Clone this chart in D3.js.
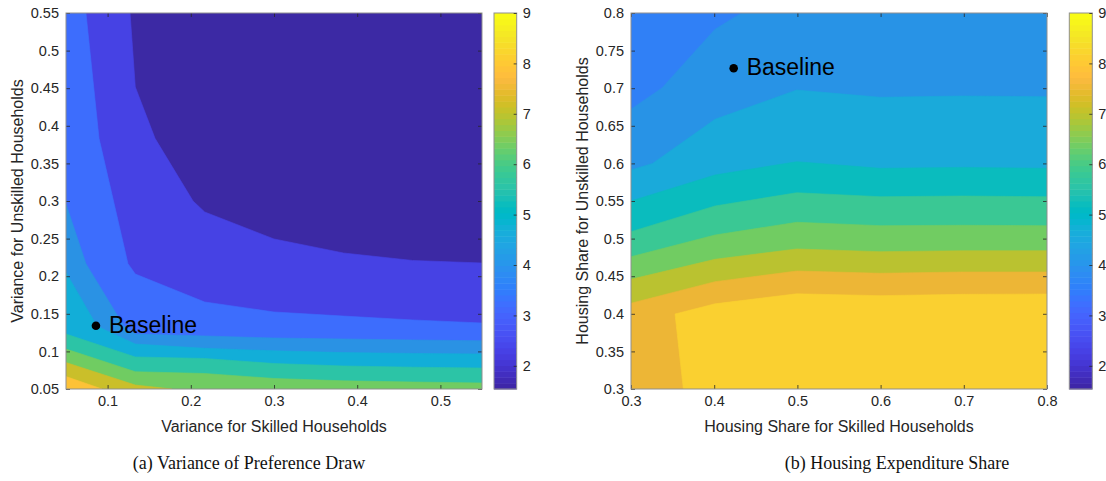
<!DOCTYPE html>
<html>
<head>
<meta charset="utf-8">
<script src="https://cdn.jsdelivr.net/npm/d3@7"></script>
<style>
  html, body { margin: 0; padding: 0; background: #fff; }
  svg { display: block; }
</style>
</head>
<body>
<svg id="chart" width="1106" height="481"></svg>
<script>
// ---------------- DATA ----------------
// Panel (a): contour boundaries (lowest level first), x = skilled variance, y = unskilled variance
const leftXDomain = [0.05, 0.55];
const leftYDomain = [0.05, 0.55];
const leftXTicks = [0.1, 0.2, 0.3, 0.4, 0.5];
const leftYTicks = [0.05, 0.1, 0.15, 0.2, 0.25, 0.3, 0.35, 0.4, 0.45, 0.5, 0.55];
const leftLine1 = [[0.127,0.55],[0.1333,0.4516],[0.157,0.3833],[0.2027,0.3],[0.2167,0.2854],[0.3,0.2495],[0.3833,0.2309],[0.4667,0.2209],[0.55,0.2176]];
const leftLine2 = [[0.074,0.55],[0.0897,0.3833],[0.1245,0.2167],[0.1333,0.2029],[0.2167,0.1657],[0.3,0.1524],[0.3833,0.147],[0.4667,0.1418],[0.55,0.1378]];
const leftLine3 = [[0.05,0.296],[0.074,0.2166],[0.1197,0.1334],[0.1333,0.1231],[0.2167,0.1205],[0.3,0.1178],[0.3833,0.1165],[0.4667,0.1152],[0.55,0.1142]];
const leftLine4 = [[0.05,0.205],[0.0873,0.1334],[0.1333,0.1098],[0.2167,0.1041],[0.3,0.1008],[0.3833,0.0984],[0.4667,0.0973],[0.55,0.0965]];
const leftLine5 = [[0.05,0.1231],[0.1333,0.0926],[0.2167,0.0906],[0.3,0.0839],[0.3833,0.0806],[0.4667,0.079],[0.55,0.0779]];
const leftLine6 = [[0.05,0.1032],[0.1333,0.073],[0.2167,0.0706],[0.3,0.064],[0.3833,0.0609],[0.4667,0.0593],[0.55,0.058]];
const leftLine7 = [[0.05,0.0852],[0.1333,0.0553],[0.1774,0.05]];
const leftLine8 = [[0.05,0.0666],[0.0933,0.05]];
const leftBaseline = [0.086, 0.1342];

// Panel (b): contour boundaries, x = skilled housing share, y = unskilled housing share
const rightXDomain = [0.3, 0.8];
const rightYDomain = [0.3, 0.8];
const rightXTicks = [0.3, 0.4, 0.5, 0.6, 0.7, 0.8];
const rightYTicks = [0.3, 0.35, 0.4, 0.45, 0.5, 0.55, 0.6, 0.65, 0.7, 0.75, 0.8];
const rightLine1 = [[0.3,0.672],[0.3373,0.7003],[0.401,0.7783],[0.433,0.8]];
const rightLine2 = [[0.3,0.5912],[0.326,0.6],[0.401,0.6586],[0.4992,0.6976],[0.5993,0.6879],[0.6994,0.6896],[0.8,0.6887]];
const rightLine3 = [[0.3,0.55],[0.401,0.5846],[0.4992,0.6023],[0.5993,0.5935],[0.6994,0.5947],[0.8,0.5935]];
const rightLine4 = [[0.3,0.5092],[0.401,0.5434],[0.4992,0.561],[0.5993,0.5557],[0.6994,0.5566],[0.8,0.5557]];
const rightLine5 = [[0.3,0.4759],[0.401,0.5048],[0.4992,0.5217],[0.5993,0.5172],[0.6994,0.5177],[0.8,0.5172]];
const rightLine6 = [[0.3,0.4459],[0.401,0.4725],[0.4992,0.4862],[0.5993,0.4826],[0.6994,0.4839],[0.8,0.4839]];
const rightLine7 = [[0.3,0.414],[0.401,0.4427],[0.4992,0.4569],[0.5993,0.4539],[0.6994,0.4556],[0.8,0.4556]];
const rightLine8 = [[0.3629,0.3],[0.3529,0.3997],[0.401,0.4133],[0.4992,0.4266],[0.5993,0.4241],[0.6994,0.4259],[0.8,0.4263]];
const rightBaseline = [0.4234, 0.7265];

// colour bar
const cbarDomain = [1.54, 9.0];
const cbarTicks = [2, 3, 4, 5, 6, 7, 8, 9];

const captions = ["(a) Variance of Preference Draw", "(b) Housing Expenditure Share"];
const xLabels = ["Variance for Skilled Households", "Housing Share for Skilled Households"];
const yLabels = ["Variance for Unskilled Households", "Housing Share for Unskilled Households"];

// ---------------- STYLE ----------------
const parula = [[0.2422,0.1504,0.6603],[0.2504,0.1650,0.7076],[0.2578,0.1818,0.7511],[0.2647,0.1978,0.7952],[0.2706,0.2147,0.8364],[0.2751,0.2342,0.8710],[0.2783,0.2559,0.8991],[0.2803,0.2782,0.9221],[0.2813,0.3006,0.9414],[0.2810,0.3228,0.9579],[0.2795,0.3447,0.9717],[0.2760,0.3667,0.9829],[0.2699,0.3892,0.9906],[0.2602,0.4123,0.9952],[0.2440,0.4358,0.9988],[0.2206,0.4603,0.9973],[0.1963,0.4847,0.9892],[0.1834,0.5074,0.9798],[0.1786,0.5289,0.9682],[0.1764,0.5499,0.9520],[0.1687,0.5703,0.9359],[0.1540,0.5902,0.9218],[0.1460,0.6091,0.9079],[0.1380,0.6276,0.8973],[0.1248,0.6459,0.8883],[0.1113,0.6635,0.8763],[0.0952,0.6798,0.8598],[0.0689,0.6948,0.8394],[0.0297,0.7082,0.8163],[0.0036,0.7203,0.7917],[0.0067,0.7312,0.7660],[0.0433,0.7411,0.7394],[0.0964,0.7500,0.7120],[0.1408,0.7584,0.6842],[0.1717,0.7670,0.6554],[0.1938,0.7758,0.6251],[0.2161,0.7843,0.5923],[0.2470,0.7918,0.5567],[0.2906,0.7973,0.5188],[0.3406,0.8008,0.4789],[0.3909,0.8029,0.4354],[0.4456,0.8024,0.3909],[0.5044,0.7993,0.3480],[0.5616,0.7942,0.3045],[0.6174,0.7876,0.2612],[0.6720,0.7793,0.2227],[0.7242,0.7698,0.1910],[0.7738,0.7598,0.1646],[0.8203,0.7498,0.1535],[0.8634,0.7406,0.1596],[0.9035,0.7330,0.1774],[0.9393,0.7288,0.2100],[0.9728,0.7298,0.2394],[0.9956,0.7434,0.2371],[0.9970,0.7659,0.2199],[0.9952,0.7893,0.2028],[0.9892,0.8136,0.1885],[0.9786,0.8386,0.1766],[0.9676,0.8639,0.1643],[0.9610,0.8890,0.1537],[0.9597,0.9135,0.1423],[0.9628,0.9373,0.1265],[0.9691,0.9606,0.1064],[0.9769,0.9839,0.0805]]
  .map(c => d3.rgb(c[0]*255, c[1]*255, c[2]*255).formatHex());
const leftColors = ["#3C29A4","#4642E4","#3D6DFD","#2A92E4","#12AED8","#2CC4A6","#70CC62","#CABF2A","#FDC237"];
const rightColors = ["#3080F6","#2893E6","#1AAADA","#0ABCBE","#3AC894","#71CC62","#BAC230","#EDB636","#FAD030"];
const axisColor = "#262626";
const boxColor = "#8f8f8f";
const sansFont = '"Liberation Sans", Arial, Helvetica, sans-serif';
const serifFont = '"Liberation Serif", "Times New Roman", serif';

// ---------------- DRAW ----------------
const svg = d3.select("#chart");

function closeRegion(line, xd, yd, marker) {
  const [xmin, xmax] = xd, [ymin, ymax] = yd;
  const W = xmax - xmin, H = ymax - ymin, P = 2 * W + 2 * H, eps = 1e-6;
  const s = p => {
    if (Math.abs(p[1] - ymin) < eps) return p[0] - xmin;
    if (Math.abs(p[0] - xmax) < eps) return W + (p[1] - ymin);
    if (Math.abs(p[1] - ymax) < eps) return W + H + (xmax - p[0]);
    return 2 * W + H + (ymax - p[1]);
  };
  const corners = [[xmin, ymin], [xmax, ymin], [xmax, ymax], [xmin, ymax]].map(pt => ({ pt, s: s(pt) }));
  corners[0].s = 0;
  const sS = s(line[0]), sE = s(line[line.length - 1]);
  const sM = s(marker);
  const mod = v => ((v % P) + P) % P;
  const Ldec = mod(sE - sS), Linc = mod(sS - sE);
  let extra;
  if (mod(sE - sM) < Ldec) {
    extra = corners.filter(c => mod(sE - c.s) < Ldec && mod(sE - c.s) > 0).sort((a, b) => mod(sE - a.s) - mod(sE - b.s));
  } else {
    extra = corners.filter(c => mod(c.s - sE) < Linc && mod(c.s - sE) > 0).sort((a, b) => mod(a.s - sE) - mod(b.s - sE));
  }
  return line.concat(extra.map(c => c.pt));
}

function panel(cfg) {
  const x = d3.scaleLinear(cfg.xd, [cfg.left, cfg.right]);
  const y = d3.scaleLinear(cfg.yd, [cfg.bottom, cfg.top]);
  const g = svg.append("g");
  const clipId = "clip" + cfg.id;
  svg.append("clipPath").attr("id", clipId).append("rect")
    .attr("x", cfg.left).attr("y", cfg.top).attr("width", cfg.right - cfg.left).attr("height", cfg.bottom - cfg.top);
  const plot = g.append("g").attr("clip-path", `url(#${clipId})`);
  plot.append("rect").attr("x", cfg.left).attr("y", cfg.top)
    .attr("width", cfg.right - cfg.left).attr("height", cfg.bottom - cfg.top).attr("fill", cfg.colors[0]);
  const gen = d3.line().x(d => x(d[0])).y(d => y(d[1]));
  cfg.lines.forEach((ln, i) => {
    const poly = closeRegion(ln, cfg.xd, cfg.yd, cfg.marker);
    plot.append("path").attr("d", gen(poly) + "Z").attr("fill", cfg.colors[i + 1])
      .attr("stroke", cfg.colors[i + 1]).attr("stroke-width", 0.6);
  });

  // axes
  const fmt = d => String(+d.toFixed(2));
  const ax = (a, ticks, withLabels) => a.tickValues(ticks).tickSizeInner(-4).tickSizeOuter(0)
    .tickPadding(withLabels ? 7 : 0).tickFormat(withLabels ? fmt : () => "");
  const styleAxis = sel => {
    sel.select(".domain").remove();
    sel.selectAll("line").attr("stroke", axisColor).attr("stroke-width", 0.8);
    sel.selectAll("text").attr("fill", axisColor).style("font-size", "14.5px").style("font-family", sansFont);
  };
  g.append("g").attr("transform", `translate(0,${cfg.bottom})`).call(ax(d3.axisBottom(x), cfg.xt, true)).call(styleAxis);
  g.append("g").attr("transform", `translate(0,${cfg.top})`).call(ax(d3.axisTop(x), cfg.xt, false)).call(styleAxis);
  g.append("g").attr("transform", `translate(${cfg.left},0)`).call(ax(d3.axisLeft(y), cfg.yt, true)).call(styleAxis);
  g.append("g").attr("transform", `translate(${cfg.right},0)`).call(ax(d3.axisRight(y), cfg.yt, false)).call(styleAxis);
  g.append("rect").attr("x", cfg.left).attr("y", cfg.top)
    .attr("width", cfg.right - cfg.left).attr("height", cfg.bottom - cfg.top)
    .attr("fill", "none").attr("stroke", boxColor).attr("stroke-width", 1);

  // baseline marker
  g.append("circle").attr("cx", x(cfg.base[0])).attr("cy", y(cfg.base[1])).attr("r", 4.3).attr("fill", "#000");
  g.append("text").attr("x", x(cfg.base[0]) + 13).attr("y", y(cfg.base[1]) + 7)
    .style("font-size", "23px").style("font-family", sansFont).attr("fill", "#000").text("Baseline");

  // axis labels
  g.append("text").attr("x", (cfg.left + cfg.right) / 2).attr("y", 432).attr("text-anchor", "middle")
    .style("font-size", "16px").style("font-family", sansFont).attr("fill", axisColor).text(cfg.xlabel);
  g.append("text").attr("transform", `translate(${cfg.ylabelX},${(cfg.top + cfg.bottom) / 2}) rotate(-90)`)
    .attr("text-anchor", "middle").style("font-size", "16px").style("font-family", sansFont)
    .attr("fill", axisColor).text(cfg.ylabel);

  // colour bar
  const cb = d3.scaleLinear(cbarDomain, [cfg.bottom, cfg.top]);
  const step = (cbarDomain[1] - cbarDomain[0]) / parula.length;
  const cg = g.append("g");
  cg.selectAll("rect.c").data(parula).join("rect").attr("class", "c")
    .attr("x", cfg.cbX).attr("width", cfg.cbW)
    .attr("y", (d, i) => cb(cbarDomain[0] + (i + 1) * step))
    .attr("height", (d, i) => cb(cbarDomain[0] + i * step) - cb(cbarDomain[0] + (i + 1) * step) + 0.5)
    .attr("fill", d => d);
  cg.append("rect").attr("x", cfg.cbX).attr("y", cfg.top).attr("width", cfg.cbW).attr("height", cfg.bottom - cfg.top)
    .attr("fill", "none").attr("stroke", boxColor).attr("stroke-width", 1);
  const cax = cg.append("g").attr("transform", `translate(${cfg.cbX + cfg.cbW},0)`)
    .call(d3.axisRight(cb).tickValues(cbarTicks).tickSizeInner(-3).tickSizeOuter(0).tickPadding(6).tickFormat(d3.format("d")));
  cax.select(".domain").remove();
  cax.selectAll("line").attr("stroke", axisColor).attr("stroke-width", 0.8);
  cax.selectAll("text").attr("fill", axisColor).style("font-size", "14.5px").style("font-family", sansFont);

  // caption
  svg.append("text").attr("x", cfg.capX).attr("y", 469).attr("text-anchor", "middle")
    .style("font-family", serifFont).style("font-size", "18px")
    .attr("fill", "#111").text(cfg.caption);
}

panel({
  id: "a", xd: leftXDomain, yd: leftYDomain, left: 66, right: 482, top: 13, bottom: 389,
  lines: [leftLine1, leftLine2, leftLine3, leftLine4, leftLine5, leftLine6, leftLine7, leftLine8],
  colors: leftColors, marker: [leftXDomain[0], leftYDomain[0]],
  xt: leftXTicks, yt: leftYTicks, base: leftBaseline,
  xlabel: xLabels[0], ylabel: yLabels[0], ylabelX: 22.5,
  cbX: 494, cbW: 22.7, caption: captions[0], capX: 249
});
panel({
  id: "b", xd: rightXDomain, yd: rightYDomain, left: 631, right: 1047, top: 13, bottom: 389,
  lines: [rightLine1, rightLine2, rightLine3, rightLine4, rightLine5, rightLine6, rightLine7, rightLine8],
  colors: rightColors, marker: [rightXDomain[1], rightYDomain[0]],
  xt: rightXTicks, yt: rightYTicks, base: rightBaseline,
  xlabel: xLabels[1], ylabel: yLabels[1], ylabelX: 588,
  cbX: 1069.3, cbW: 23, caption: captions[1], capX: 897
});
</script>
</body>
</html>
